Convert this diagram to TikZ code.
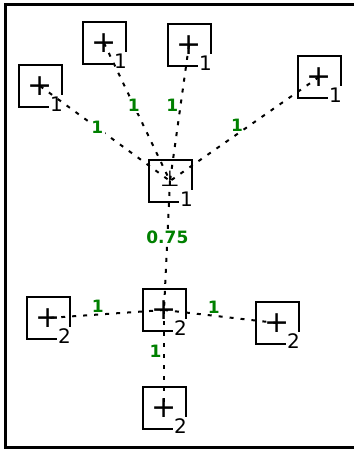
\documentclass[tikz,border=0pt]{standalone}
\usepackage{fontspec}
\setmainfont{DejaVu Sans}
\usetikzlibrary{arrows}
\definecolor{wgreen}{RGB}{0,128,0}

\begin{document}
\begin{tikzpicture}[x=1pt,y=-1pt,
    opnode/.style={draw, line width=2pt, minimum width=43pt, minimum height=42pt,
      inner sep=0pt, font=\fontsize{30}{30}\selectfont},
    subnum/.style={anchor=center, xshift=-6pt, yshift=4pt, fill=white,
      inner sep=1.5pt, font=\fontsize{20}{20}\selectfont},
    link/.style={line width=2pt, dash pattern=on 4pt off 7pt},
    wt/.style={text=wgreen, font=\bfseries\fontsize{17}{17}\selectfont, inner sep=1.5pt}]
    \useasboundingbox (0,0) rectangle (354,450);
    %frame, open on the right
    \draw[line width=3pt] (354,4) -- (5,4) -- (5,447) -- (354,447);

    %upper group
    \node[opnode, label={[subnum]south east:1}] (a) at (40,86) {+};
    \node[opnode, label={[subnum]south east:1}] (b) at (104,43) {+};
    \node[opnode, label={[subnum]south east:1}] (c) at (189,45) {+};
    \node[opnode, label={[subnum]south east:1}] (d) at (319,77) {+};
    \node[opnode, label={[subnum]south east:1}] (e) at (170,181)
      {\raisebox{4pt}{\fontsize{22}{22}\selectfont ⊥}};

    %lower group
    \node[opnode, label={[subnum]south east:2}] (f) at (164,310) {+};
    \node[opnode, label={[subnum]south east:2}] (g) at (48,318) {+};
    \node[opnode, label={[subnum]south east:2}] (h) at (277,323) {+};
    \node[opnode, label={[subnum]south east:2}] (i) at (164,408) {+};

    %weighted links, drawn centre to centre
    \draw[link] (a.center) -- node[wt, fill=white, pos=0.44] {1} (e.center);
    \draw[link] (b.center) -- node[wt, fill=white, pos=0.45] {1} (e.center);
    \draw[link] (c.center) -- node[wt, left, pos=0.44] {1} (e.center);
    \draw[link] (d.center) -- node[wt, above, pos=0.55] {1} (e.center);
    \draw[link] (e.center) -- node[wt, fill=white, pos=0.44] {0.75} (f.center);
    \draw[link] (f.center) -- node[wt, above, pos=0.57] {1} (g.center);
    \draw[link] (f.center) -- node[wt, above, pos=0.44] {1} (h.center);
    \draw[link] (f.center) -- node[wt, left, pos=0.42] {1} (i.center);
\end{tikzpicture}
\end{document}
